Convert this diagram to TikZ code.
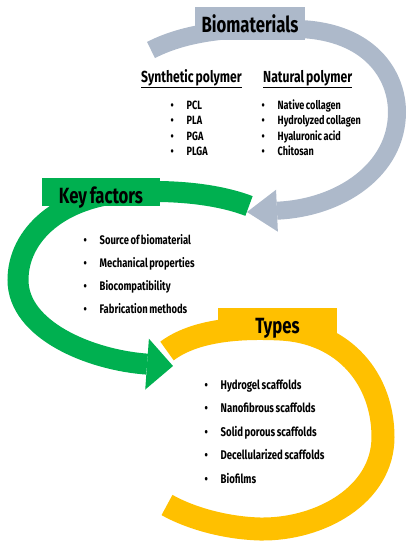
\documentclass[tikz,border=0pt]{standalone}
\usepackage{fontspec}
\setmainfont{Fira Sans}[FakeStretch=0.76, WordSpace=0.7]
\usetikzlibrary{arrows.meta}
\definecolor{bioGray}{HTML}{ADB9CA}
\definecolor{keyGreen}{HTML}{00B050}
\definecolor{typeYellow}{HTML}{FFC000}
\newcommand{\bitem}[1]{\makebox[16pt][l]{\textbullet}#1}

\begin{document}
\begin{tikzpicture}[
        x=1pt, y=-1pt,
        banner/.style={rectangle, inner sep=0pt, text height=25pt, anchor=base, font=\fontsize{22}{24}\selectfont\bfseries},
        grayarc/.style={draw=bioGray, line width=18pt, -{Triangle[length=30pt, width=42pt, line width=0pt]}},
        greenarc/.style={draw=keyGreen, line width=21pt, -{Triangle[length=26pt, width=51pt, line width=0pt]}},
        yellowarc/.style={draw=typeYellow, line width=23pt},
        heading/.style={inner sep=0pt, anchor=base west, font=\fontsize{16}{18}\selectfont\bfseries},
        item/.style={inner sep=0pt, anchor=base west, font=\fontsize{12}{14}\selectfont\bfseries},
        keyitem/.style={item, font=\fontsize{12.4}{14}\selectfont\bfseries},
        typeitem/.style={item, font=\fontsize{12.6}{14}\selectfont\bfseries}
    ]
%
    \useasboundingbox (0,0) rectangle (415,550);
%
    % Arc ends
    \coordinate (bioTail) at (151,50);
    \coordinate (bioTip) at (247,212);
    \coordinate (keyTail) at (249,206);
    \coordinate (keyTip) at (173,366);
    \coordinate (typeTail) at (167,351);
    \coordinate (typeEnd) at (167,505);
%
    % Arcs
    \draw[grayarc] (bioTail) .. controls (190,30) and (240,27) .. (300,29)
        .. controls (370,32) and (397,75) .. (397,112)
        .. controls (397,170) and (340,208) .. (bioTip);
    \draw[greenarc] (keyTail) .. controls (215,193) and (170,190) .. (130,192)
        .. controls (60,196) and (18,235) .. (18,280)
        .. controls (18,330) and (90,360) .. (keyTip);
    \draw[yellowarc] (typeTail) .. controls (195,330) and (240,327) .. (280,329)
        .. controls (345,332) and (383,380) .. (383,437)
        .. controls (383,495) and (320,530) .. (260,529)
        .. controls (225,528) and (190,518) .. (typeEnd);
%
    % Banners
    \node[banner, fill=bioGray, minimum width=110pt, text depth=8pt] (bio) at (250,32) {Biomaterials};
    \node[banner, fill=keyGreen, minimum width=118pt, text depth=3pt] (key) at (101,203) {Key factors};
    \node[banner, fill=typeYellow, minimum width=119pt, text depth=7pt] (types) at (277.5,333) {Types};
%
    % Biomaterials
    \node[heading] (synth) at (141,82) {\underline{Synthetic polymer}};
    \node[heading] (natur) at (263,82) {\underline{Natural polymer}};
    \foreach \txt [count=\k] in {PCL, PLA, PGA, PLGA}
        \node[item] (synth\k) at (170.5,93.5+15.5*\k) {\bitem{\txt}};
    \foreach \txt [count=\k] in {Native collagen, Hydrolyzed collagen, Hyaluronic acid, Chitosan}
        \node[item] (natur\k) at (261.5,93.5+15.5*\k) {\bitem{\txt}};
%
    % Key factors
    \foreach \txt [count=\k] in {Source of biomaterial, Mechanical properties, Biocompatibility, Fabrication methods}
        \node[keyitem] (key\k) at (83.5,221+23*\k) {\bitem{\txt}};
%
    % Types
    \foreach \txt [count=\k] in {Hydrogel scaffolds, Nanofibrous scaffolds, Solid porous scaffolds, Decellularized scaffolds, Biofilms}
        \node[typeitem] (types\k) at (204.5,365.5+23.5*\k) {\bitem{\txt}};
%
\end{tikzpicture}
\end{document}
